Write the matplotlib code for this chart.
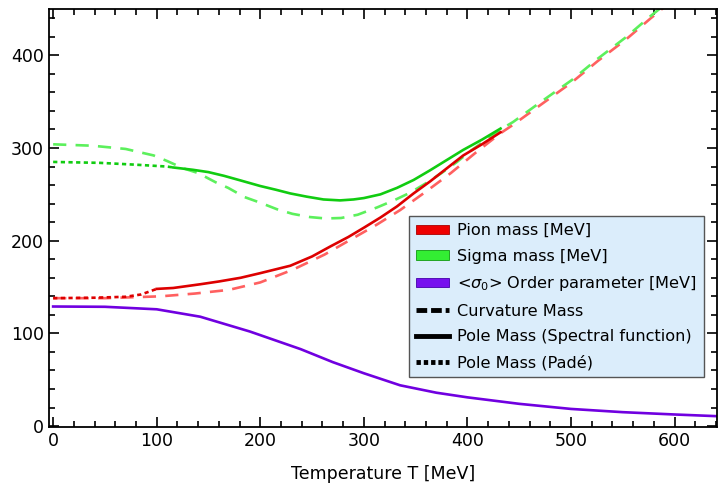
import matplotlib
matplotlib.use("Agg")
import matplotlib.pyplot as plt
from matplotlib.lines import Line2D
from matplotlib.patches import Patch
from matplotlib.ticker import MultipleLocator

# -----------------------------
# Data (T in MeV, masses in MeV)
# -----------------------------
pion_pade_T = [0, 40, 70, 85, 100]
pion_pade_M = [138, 138.5, 139.5, 142, 148]

pion_pole_T = [100, 116, 142, 160, 181, 200, 229, 250, 268, 285, 300, 316, 332,
               348, 364, 380, 396, 414, 432]
pion_pole_M = [148, 149, 153, 156, 160, 165, 173, 183, 194, 204, 214, 225, 237,
               251, 264, 278, 292, 304, 317]

pion_curv_T = [0, 50, 104, 137, 170, 200, 232, 262, 287, 312, 335, 360, 384,
               408, 432, 444, 470, 501, 526, 553, 577, 590]
pion_curv_M = [138, 138, 140, 143, 147, 155, 169, 185, 201, 217, 233, 253, 273,
               295, 316, 325, 346, 371, 394, 417, 440, 452]

sigma_pade_T = [0, 45, 80, 110, 116]
sigma_pade_M = [285, 284, 282, 280, 279]

sigma_pole_T = [116, 135, 150, 165, 181, 200, 215, 229, 245, 261, 277, 290, 300,
                316, 332, 348, 364, 380, 396, 414, 432]
sigma_pole_M = [279, 276.5, 274, 270, 265, 259, 255, 251, 247.5, 244.5, 243.5,
                244.5, 246, 250, 257, 265.5, 276, 287, 298, 309, 321]

sigma_curv_T = [0, 38, 70, 97, 110, 126, 140, 157, 169, 185, 200, 216, 231, 248,
                263, 278, 294, 313, 330, 345, 360, 375, 390, 402, 417, 432, 444,
                470, 501, 526, 553, 577, 592]
sigma_curv_M = [304, 302.5, 299, 292, 286, 278, 273, 263, 257, 247, 241, 234,
                229, 225.5, 224, 224.5, 228, 236, 244, 252, 262, 273, 285, 296,
                308, 320, 328, 349, 373.5, 396.5, 419.5, 442.5, 456]

order_T = [0, 50, 100, 142, 190, 239, 270, 300, 335, 370, 400, 450, 500, 550,
           600, 645]
order_M = [129, 128.7, 126, 118, 102, 83, 69, 57, 44, 36, 31, 24, 18.5, 15,
           12.5, 10.5]

# -----------------------------
# Styles
# -----------------------------
red, red_l = "#dd0000", "#ff6060"
green, green_l = "#11cc11", "#5cf05c"
purple = "#7000e0"
lw = 1.9
dash = (0, (5, 3.5))
dot = (0, (1.6, 1.3))

fig = plt.figure(figsize=(7.2, 4.87), dpi=100)
ax = fig.add_axes([49 / 720, 60 / 487, 668 / 720, 418 / 487])

ax.plot(pion_curv_T, pion_curv_M, color=red_l, lw=lw, linestyle=dash)
ax.plot(sigma_curv_T, sigma_curv_M, color=green_l, lw=lw, linestyle=dash)
ax.plot(order_T, order_M, color=purple, lw=lw)
ax.plot(pion_pade_T, pion_pade_M, color=red, lw=lw, linestyle=dot)
ax.plot(pion_pole_T, pion_pole_M, color=red, lw=lw)
ax.plot(sigma_pade_T, sigma_pade_M, color=green, lw=lw, linestyle=dot)
ax.plot(sigma_pole_T, sigma_pole_M, color=green, lw=lw)

ax.set_xlim(-4, 641)
ax.set_ylim(-1, 450)
ax.xaxis.set_major_locator(MultipleLocator(100))
ax.xaxis.set_minor_locator(MultipleLocator(20))
ax.yaxis.set_major_locator(MultipleLocator(100))
ax.yaxis.set_minor_locator(MultipleLocator(20))
ax.tick_params(which="both", direction="in", top=True, right=True,
               width=1.2, labelsize=12.5, colors="black")
ax.tick_params(which="major", length=7)
ax.tick_params(which="minor", length=4)
for s in ax.spines.values():
    s.set_linewidth(1.3)

ax.set_xlabel("Temperature T [MeV]", fontsize=12.5, labelpad=11)

handles = [
    Patch(facecolor="#ee0000", edgecolor="#aa0000", lw=0.6),
    Patch(facecolor="#33ee33", edgecolor="#119911", lw=0.6),
    Patch(facecolor="#7711ee", edgecolor="#4400aa", lw=0.6),
    Line2D([], [], color="black", lw=3.5, linestyle=(0, (2.2, 0.8))),
    Line2D([], [], color="black", lw=3.5),
    Line2D([], [], color="black", lw=3.5, linestyle=(0, (0.9, 0.6))),
]
labels = [
    "Pion mass [MeV]",
    "Sigma mass [MeV]",
    r"<$\sigma_0$> Order parameter [MeV]",
    "Curvature Mass",
    "Pole Mass (Spectral function)",
    "Pole Mass (Padé)",
]
leg = ax.legend(handles, labels, loc="upper left", bbox_to_anchor=(0.539, 0.505),
                borderaxespad=0, fontsize=11.6, handlelength=2.0, handleheight=0.5,
                handletextpad=0.5, labelspacing=0.65, borderpad=0.45,
                fancybox=False, framealpha=1)
leg.get_frame().set_facecolor("#dbedfb")
leg.get_frame().set_edgecolor("#555555")
leg.get_frame().set_linewidth(1.0)

fig.savefig("out.png", dpi=100)
